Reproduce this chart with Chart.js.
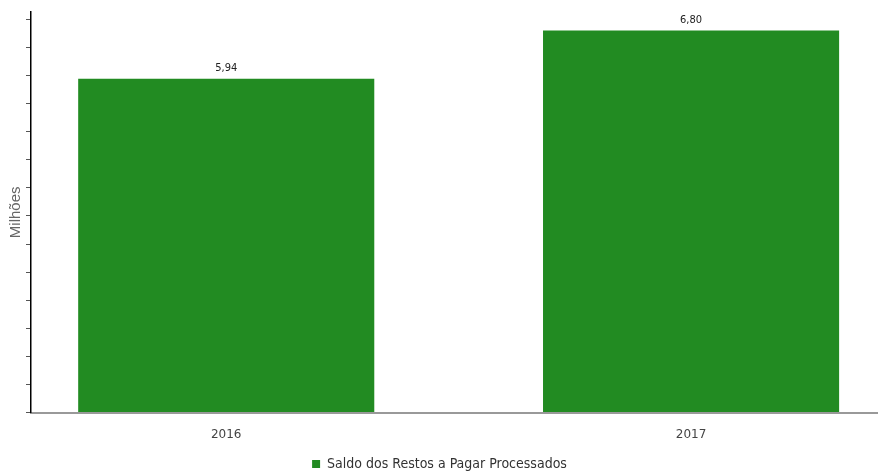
<!DOCTYPE html>
<html>
<head>
<meta charset="utf-8">
<script src="https://cdn.jsdelivr.net/npm/chart.js@4/dist/chart.umd.min.js"></script>
<style>
  body { margin: 0; background: #fff; }
  #wrap { width: 881px; height: 475px; }
</style>
</head>
<body>
<div id="wrap"><canvas id="chart"></canvas></div>
<script>
// === Data ===
const years = [2016, 2017];
const saldo = [5.94, 6.80];
const seriesName = 'Saldo dos Restos a Pagar Processados';
const yTickStep = 0.5;
const yTickMax = 7;

// value labels above bars
const valueLabels = {
  id: 'valueLabels',
  afterDatasetsDraw(chart) {
    const ctx = chart.ctx;
    const meta = chart.getDatasetMeta(0);
    ctx.save();
    ctx.font = '11px "DejaVu Sans Condensed", "DejaVu Sans", sans-serif';
    ctx.fillStyle = '#222';
    ctx.textAlign = 'center';
    ctx.textBaseline = 'bottom';
    meta.data.forEach((bar, i) => {
      const txt = saldo[i].toFixed(2).replace('.', ',');
      ctx.fillText(txt, bar.x, bar.y - 5);
    });
    ctx.restore();
  }
};

// nudge legend a bit lower, closer to the bottom edge
const legendNudge = {
  id: 'legendNudge',
  afterLayout(chart) {
    chart.legend.top += 8;
    chart.legend.bottom += 8;
  }
};

new Chart(document.getElementById('chart'), {
  type: 'bar',
  data: {
    datasets: [{
      label: seriesName,
      data: years.map((y, i) => ({ x: y, y: saldo[i] })),
      backgroundColor: '#228B22',
      borderWidth: 0,
      barPercentage: 0.637,
      categoryPercentage: 1
    }]
  },
  options: {
    responsive: true,
    maintainAspectRatio: false,
    animation: false,
    layout: { padding: { left: 2, right: 4, top: 12, bottom: 2 } },
    scales: {
      x: {
        type: 'linear',
        offset: false,
        min: 2015.58,
        max: 2017.4,
        afterBuildTicks: (axis) => { axis.ticks = years.map(v => ({ value: v })); },
        grid: { display: false },
        border: { color: '#999', width: 2 },
        ticks: {
          padding: 7,
          color: '#444',
          font: { family: '"DejaVu Sans", sans-serif', size: 12 },
          callback: (v) => String(v)
        }
      },
      y: {
        min: 0,
        max: 7.13,
        afterBuildTicks: (axis) => {
          const t = [];
          for (let v = 0; v <= yTickMax; v += yTickStep) t.push({ value: v });
          axis.ticks = t;
        },
        grid: { drawOnChartArea: false, drawTicks: true, tickLength: 5, color: '#555' },
        border: { color: '#000', width: 1.5 },
        ticks: { display: false },
        title: {
          display: true,
          text: 'Milhões',
          color: '#666',
          padding: { top: 5, bottom: 1 },
          font: { family: '"Liberation Sans", Arial, sans-serif', size: 15 }
        }
      }
    },
    plugins: {
      tooltip: { enabled: false },
      legend: {
        position: 'bottom',
        labels: {
          boxWidth: 8,
          boxHeight: 8,
          color: '#333',
          padding: 0,
          font: { family: '"DejaVu Sans Condensed", "Liberation Sans Narrow", sans-serif', size: 14 }
        }
      }
    }
  },
  plugins: [valueLabels, legendNudge]
});
</script>
</body>
</html>
